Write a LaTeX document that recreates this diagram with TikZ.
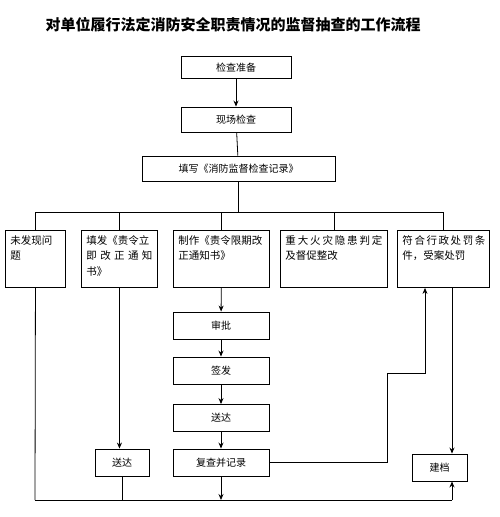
\documentclass[tikz,border=0pt]{standalone}
\usepackage{fontspec}
\setmainfont{Noto Sans CJK SC}
\usetikzlibrary{arrows.meta, positioning}
\newcommand{\boxlines}[2]{\parbox[t][47pt][t]{#1}{\raggedright #2}}

\begin{document}
\begin{tikzpicture}[x=1pt, y=-1pt,
  stepbox/.style={draw, line width=0.9pt, minimum height=27pt, inner sep=0pt, font=\fontsize{10}{12}\selectfont},
  tallbox/.style={draw, line width=0.9pt, anchor=north west, inner xsep=5pt, inner ysep=5pt, font=\fontsize{10.5}{15.5}\selectfont},
  arrow/.style={-{Stealth[length=6pt, width=5pt]}, line width=0.8pt},
  link/.style={line width=0.8pt}
]
\useasboundingbox (0,0) rectangle (500,517);

\node[font=\fontsize{15}{18}\selectfont\bfseries] (title) at (233,25) {对单位履行法定消防安全职责情况的监督抽查的工作流程};

\node[stepbox, minimum width=110pt, minimum height=22pt] (prep) at (236,67.5) {检查准备};
\node[stepbox, minimum width=110pt, minimum height=25pt] (site) at (236,119.5) {现场检查};
\node[stepbox, minimum width=193pt, minimum height=25pt] (record) at (238.5,168.5) {填写《消防监督检查记录》};

\node[tallbox] (noissue) at (5,230) {\boxlines{50pt}{未发现问\\题}};
\node[tallbox] (instant) at (81,230) {\boxlines{66pt}{填发《责令立\\\makebox[\linewidth][s]{即 改 正 通 知}\\书》}};
\node[tallbox] (limit) at (173,230) {\boxlines{86pt}{制作《责令限期改\\正通知书》}};
\node[tallbox] (hazard) at (280,230) {\boxlines{97pt}{\makebox[\linewidth][s]{重 大 火 灾 隐 患 判 定}\\及督促整改}};
\node[tallbox] (penalty) at (397,230) {\boxlines{82pt}{\makebox[\linewidth][s]{符 合 行 政 处 罚 条}\\件，受案处罚}};

\node[stepbox, minimum width=96pt] (approve) at (221,325.5) {审批};
\node[stepbox, minimum width=96pt] (sign) at (221,370.5) {签发};
\node[stepbox, minimum width=96pt] (send) at (221,418) {送达};
\node[stepbox, minimum width=96pt] (review) at (221,462.5) {复查并记录};
\node[stepbox, minimum width=54pt] (send2) at (122,462.5) {送达};
\node[stepbox, minimum width=55pt] (archive) at (439.5,467.5) {建档};

\coordinate (busl) at (35,212);
\coordinate (busr) at (443,212);
\coordinate (busbl) at (35,500);
\coordinate (busbr) at (452,500);
\coordinate (turn) at (387,373);
\coordinate (rise) at (425,373);

% top part
\draw[arrow] (prep) -- (site);
\draw[link] (site) -- (record);
\draw[link] (record.south) -- (record.south |- busl);
\draw[link] (busl) -- (busr);
\foreach \b in {noissue, instant, limit, hazard, penalty}
  \draw[link] (\b.north) -- (\b.north |- busl);

% middle column
\draw[arrow] (limit) -- (approve);
\draw[arrow] (approve) -- (sign);
\draw[arrow] (sign) -- (send);
\draw[arrow] (send) -- (review);
\draw[arrow] (instant.south) -- (instant.south |- send2.north);

% bottom part
\draw[link] (noissue.south) -- (busbl);
\draw[link] (send2.south) -- (send2.south |- busbl);
\draw[arrow] (review.south) -- (review.south |- busbl);
\draw[link] (busbl) -- (busbr);
\draw[arrow] (busbr) -- (busbr |- archive.south);
\draw[arrow] (penalty.south -| busbr) -- (archive.north -| busbr);
\draw[arrow] (review.east) -| (turn) -- (rise) -- (rise |- penalty.south);
\end{tikzpicture}
\end{document}
